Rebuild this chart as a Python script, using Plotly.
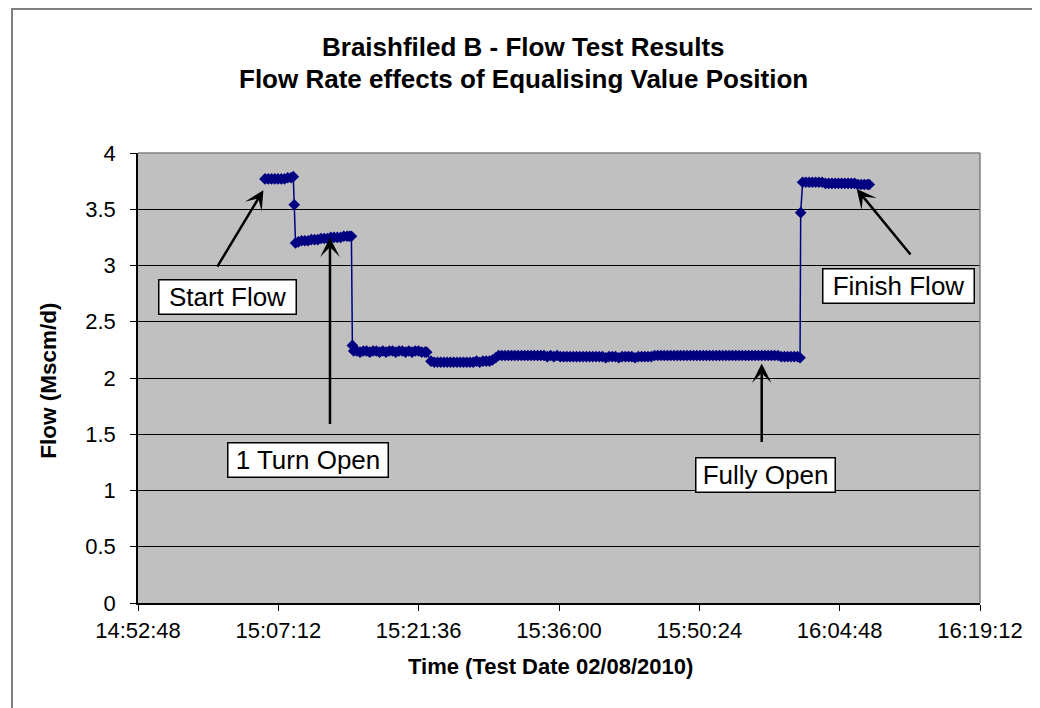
import plotly.graph_objects as go

# ---------------- data ----------------
test_date = "2010-08-02"

# Start flow (valve closed)
times_start = ["15:05:50", "15:06:10", "15:06:30", "15:06:50", "15:07:10",
               "15:07:30", "15:07:50", "15:08:10", "15:08:30", "15:08:44", "15:08:50"]
flow_start = [3.77, 3.77, 3.77, 3.77, 3.77,
              3.77, 3.77, 3.78, 3.78, 3.79, 3.54]

# 1 turn open
times_turn1 = ["15:08:58", "15:09:15", "15:09:35", "15:09:55", "15:10:15",
               "15:10:35", "15:10:55", "15:11:15", "15:11:35", "15:11:55",
               "15:12:15", "15:12:35", "15:12:55", "15:13:15", "15:13:35",
               "15:13:55", "15:14:15", "15:14:30", "15:14:42", "15:14:48"]
flow_turn1 = [3.20, 3.21, 3.22, 3.22, 3.22,
              3.23, 3.23, 3.23, 3.24, 3.24,
              3.24, 3.25, 3.25, 3.25, 3.25,
              3.26, 3.26, 3.26, 3.26, 2.29]

# further opening
times_mid = ["15:14:56", "15:15:15", "15:15:35", "15:15:55", "15:16:15", "15:16:35",
             "15:16:55", "15:17:15", "15:17:35", "15:17:55", "15:18:15", "15:18:35",
             "15:18:55", "15:19:15", "15:19:35", "15:19:55", "15:20:15", "15:20:35",
             "15:20:55", "15:21:15", "15:21:35", "15:21:55", "15:22:15", "15:22:25"]
flow_mid = [2.24, 2.24, 2.23, 2.24, 2.24, 2.23,
            2.24, 2.24, 2.23, 2.24, 2.23, 2.24,
            2.24, 2.23, 2.24, 2.24, 2.23, 2.24,
            2.23, 2.24, 2.24, 2.23, 2.23, 2.23]

times_low = ["15:22:52", "15:23:12", "15:23:32", "15:23:52", "15:24:12", "15:24:32",
             "15:24:52", "15:25:12", "15:25:32", "15:25:52", "15:26:12", "15:26:32",
             "15:26:52", "15:27:12", "15:27:32", "15:27:52", "15:28:12", "15:28:32",
             "15:28:52", "15:29:10", "15:29:30", "15:29:48"]
flow_low = [2.15, 2.14, 2.14, 2.14, 2.14, 2.14,
            2.14, 2.14, 2.14, 2.14, 2.14, 2.14,
            2.14, 2.14, 2.15, 2.14, 2.15, 2.15,
            2.15, 2.16, 2.18, 2.20]

# fully open
times_full = [
    "15:30:08", "15:30:28", "15:30:48",
    "15:31:08", "15:31:28", "15:31:48",
    "15:32:08", "15:32:28", "15:32:48",
    "15:33:08", "15:33:28", "15:33:48",
    "15:34:08", "15:34:28", "15:34:48",
    "15:35:08", "15:35:28", "15:35:48",
    "15:36:08", "15:36:28", "15:36:48",
    "15:37:08", "15:37:28", "15:37:48",
    "15:38:08", "15:38:28", "15:38:48",
    "15:39:08", "15:39:28", "15:39:48",
    "15:40:08", "15:40:28", "15:40:48",
    "15:41:08", "15:41:28", "15:41:48",
    "15:42:08", "15:42:28", "15:42:48",
    "15:43:08", "15:43:28", "15:43:48",
    "15:44:08", "15:44:28", "15:44:48",
    "15:45:08", "15:45:28", "15:45:48",
    "15:46:08", "15:46:28", "15:46:48",
    "15:47:08", "15:47:28", "15:47:48",
    "15:48:08", "15:48:28", "15:48:48",
    "15:49:08", "15:49:28", "15:49:48",
    "15:50:08", "15:50:28", "15:50:48",
    "15:51:08", "15:51:28", "15:51:48",
    "15:52:08", "15:52:28", "15:52:48",
    "15:53:08", "15:53:28", "15:53:48",
    "15:54:08", "15:54:28", "15:54:48",
    "15:55:08", "15:55:28", "15:55:48",
    "15:56:08", "15:56:28", "15:56:48",
    "15:57:08", "15:57:28", "15:57:48",
    "15:58:08", "15:58:28", "15:58:48",
    "15:59:08", "15:59:28", "15:59:48",
    "16:00:08", "16:00:28", "16:00:44",
    "16:00:48",
]
flow_full = [
    2.20, 2.20, 2.20,
    2.20, 2.20, 2.20,
    2.20, 2.20, 2.20,
    2.20, 2.20, 2.20,
    2.20, 2.20, 2.19,
    2.20, 2.19, 2.20,
    2.19, 2.19, 2.19,
    2.19, 2.19, 2.19,
    2.19, 2.19, 2.19,
    2.19, 2.19, 2.19,
    2.19, 2.19, 2.18,
    2.19, 2.19, 2.19,
    2.18, 2.19, 2.19,
    2.19, 2.19, 2.18,
    2.19, 2.19, 2.19,
    2.19, 2.19, 2.20,
    2.20, 2.20, 2.20,
    2.20, 2.20, 2.20,
    2.20, 2.20, 2.20,
    2.20, 2.20, 2.20,
    2.20, 2.20, 2.20,
    2.20, 2.20, 2.20,
    2.20, 2.20, 2.20,
    2.20, 2.20, 2.20,
    2.20, 2.20, 2.20,
    2.20, 2.20, 2.20,
    2.20, 2.20, 2.20,
    2.20, 2.20, 2.20,
    2.20, 2.20, 2.19,
    2.19, 2.19, 2.19,
    2.19, 2.19, 2.18,
    3.47,
]

# finish flow
times_finish = ["16:01:00", "16:01:20", "16:01:40", "16:02:00", "16:02:20", "16:02:40",
                "16:03:00", "16:03:20", "16:03:40", "16:04:00", "16:04:20", "16:04:40",
                "16:05:00", "16:05:20", "16:05:40", "16:06:00", "16:06:20", "16:06:40",
                "16:07:00", "16:07:20", "16:07:40", "16:07:50"]
flow_finish = [3.74, 3.74, 3.74, 3.74, 3.74, 3.74,
               3.74, 3.73, 3.73, 3.73, 3.73, 3.73,
               3.73, 3.73, 3.73, 3.73, 3.73, 3.72,
               3.72, 3.72, 3.72, 3.72]

sample_times = times_start + times_turn1 + times_mid + times_low + times_full + times_finish
flow_mscmd = flow_start + flow_turn1 + flow_mid + flow_low + flow_full + flow_finish

# callouts: label, arrow tip time, arrow tip flow
callout_labels = ["Start Flow", "1 Turn Open", "Fully Open", "Finish Flow"]
callout_tip_times = ["15:05:40", "15:12:30", "15:56:48", "16:06:33"]
callout_tip_flows = [3.67, 3.25, 2.13, 3.68]

x_range = ["14:52:48", "16:19:12"]
y_range = [0, 4]

title_lines = ["Braishfiled B - Flow Test Results",
               "Flow Rate effects of Equalising Value Position"]
x_title = "Time (Test Date 02/08/2010)"
y_title = "Flow (Mscm/d)"

# ---------------- layout helpers ----------------
W, H = 1040, 708
OFF = 8                                  # page body offset
PL, PR, PT, PB = 138, 980, 153, 603.3    # plot area (screen pixels)


def px(xp):
    return (xp - PL) / (PR - PL)


def py(yp):
    return (PB - yp) / (PB - PT)


FONT = "Liberation Sans, Arial, Helvetica, sans-serif"
NAVY = "#000080"

fig = go.Figure()
fig.add_trace(go.Scatter(
    x=[f"{test_date} {t}" for t in sample_times],
    y=flow_mscmd,
    mode="lines+markers",
    line=dict(color=NAVY, width=1.5),
    marker=dict(symbol="diamond", size=9, color=NAVY),
    showlegend=False,
    hoverinfo="x+y",
))

annotations = []
for line, yp in zip(title_lines, [47, 79]):
    annotations.append(dict(
        text=f"<b>{line}</b>", xref="paper", yref="paper",
        x=px(523), y=py(yp), xanchor="center", yanchor="middle",
        showarrow=False, font=dict(family=FONT, size=26, color="black")))
annotations.append(dict(
    text=f"<b>{x_title}</b>", xref="paper", yref="paper",
    x=px(550), y=py(667), xanchor="center", yanchor="middle",
    showarrow=False, font=dict(family=FONT, size=22, color="black")))
annotations.append(dict(
    text=f"<b>{y_title}</b>", xref="paper", yref="paper",
    x=px(49), y=py(381), xanchor="center", yanchor="middle", textangle=-90,
    showarrow=False, font=dict(family=FONT, size=22.5, color="black")))

arrow_offsets = [(-47, 78), (0, 188), (0, 80), (55, 67)]
for t, f, (axp, ayp) in zip(callout_tip_times, callout_tip_flows, arrow_offsets):
    annotations.append(dict(
        x=f"{test_date} {t}", y=f, xref="x", yref="y", text="",
        showarrow=True, ax=axp, ay=ayp, arrowhead=3, arrowsize=1.3,
        arrowwidth=2.5, arrowcolor="black", standoff=0, startstandoff=0))

box_centres = [(227, 297), (308, 460), (765.5, 475.3), (898.3, 286.2)]
box_widths = [136, 159, 138, 150]
for lab, (cx, cy), bw in zip(callout_labels, box_centres, box_widths):
    annotations.append(dict(
        text=lab, xref="paper", yref="paper", x=px(cx), y=py(cy),
        xanchor="center", yanchor="middle", showarrow=False,
        font=dict(family=FONT, size=26, color="black"),
        bgcolor="white", bordercolor="black", borderwidth=1.5, borderpad=0,
        width=bw, height=33))

shapes = [
    dict(type="rect", xref="paper", yref="paper",
         x0=px(12), x1=px(1036), y0=py(760), y1=py(9),
         line=dict(color="#808080", width=2), fillcolor="rgba(0,0,0,0)",
         layer="below"),
    dict(type="line", xref="paper", yref="paper", x0=0, x1=1, y0=1, y1=1,
         line=dict(color="#808080", width=1.5), layer="above"),
    dict(type="line", xref="paper", yref="paper", x0=1, x1=1, y0=0, y1=1,
         line=dict(color="#808080", width=1.5), layer="above"),
]

fig.update_layout(
    width=W, height=H,
    margin=dict(l=PL - OFF, r=W - (PR - OFF), t=PT - OFF, b=H - (PB - OFF)),
    paper_bgcolor="white", plot_bgcolor="#C0C0C0",
    font=dict(family=FONT, size=22, color="black"),
    annotations=annotations, shapes=shapes, showlegend=False,
)
fig.update_xaxes(
    type="date",
    range=[f"{test_date} {x_range[0]}", f"{test_date} {x_range[1]}"],
    tick0=f"{test_date} {x_range[0]}", dtick=864000, tickformat="%H:%M:%S",
    showgrid=False, zeroline=False, showline=True, linecolor="black", linewidth=1.5,
    ticks="outside", ticklen=6, tickcolor="black", tickwidth=1,
    tickfont=dict(family=FONT, size=22, color="black"), ticklabelstandoff=1,
)
fig.update_yaxes(
    range=y_range, dtick=0.5, tick0=0,
    showgrid=True, gridcolor="black", gridwidth=1,
    zeroline=False, showline=True, linecolor="black", linewidth=1.5,
    ticks="outside", ticklen=6, tickcolor="black", tickwidth=1,
    tickfont=dict(family=FONT, size=22, color="black"), ticklabelstandoff=10,
)

fig.write_html("out.html")
